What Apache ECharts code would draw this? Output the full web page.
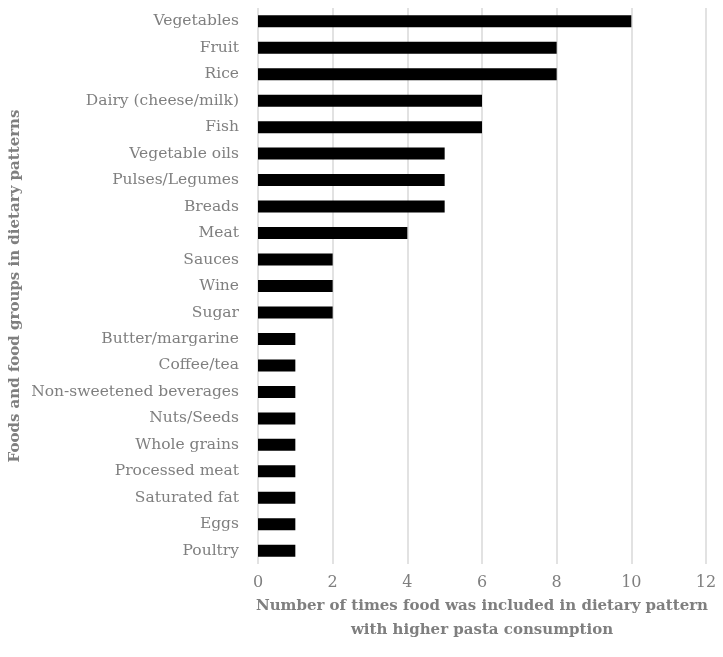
<!DOCTYPE html>
<html>
<head>
<meta charset="utf-8">
<script src="https://cdn.jsdelivr.net/npm/echarts@6/dist/echarts.min.js"></script>
<style>
  html, body { margin: 0; padding: 0; background: #fff; }
  #chart { width: 723px; height: 657px; }
</style>
</head>
<body>
<div id="chart"></div>
<script>
// food groups, top to bottom as shown
var foods = ['Vegetables', 'Fruit', 'Rice', 'Dairy (cheese/milk)', 'Fish', 'Vegetable oils',
    'Pulses/Legumes', 'Breads', 'Meat', 'Sauces', 'Wine', 'Sugar', 'Butter/margarine',
    'Coffee/tea', 'Non-sweetened beverages', 'Nuts/Seeds', 'Whole grains', 'Processed meat',
    'Saturated fat', 'Eggs', 'Poultry'];
var counts = [10, 8, 8, 6, 6, 5, 5, 5, 4, 2, 2, 2, 1, 1, 1, 1, 1, 1, 1, 1, 1];
var xTicks = [0, 2, 4, 6, 8, 10, 12];

var font = 'DejaVu Serif';
var grey = '#7f7f7f';

var chart = echarts.init(document.getElementById('chart'));
chart.setOption({
    animation: false,
    grid: { left: 258, right: 17, top: 8, bottom: 93, containLabel: false, outerBoundsMode: 'none' },
    xAxis: {
        type: 'value',
        min: xTicks[0],
        max: xTicks[xTicks.length - 1],
        interval: 2,
        name: 'Number of times food was included in dietary pattern\nwith higher pasta consumption',
        nameLocation: 'middle',
        nameGap: 30,
        nameMoveOverlap: false,
        nameTextStyle: { fontFamily: font, fontWeight: 'bold', fontSize: 15, color: grey, lineHeight: 24 },
        axisLine: { show: false },
        axisTick: { show: false },
        axisLabel: { fontFamily: font, fontSize: 16, color: grey, margin: 11 },
        splitLine: { lineStyle: { color: '#d9d9d9', width: 1.5 } }
    },
    yAxis: {
        type: 'category',
        data: foods,
        inverse: true,
        name: 'Foods and food groups in dietary patterns',
        nameLocation: 'middle',
        nameGap: 235,
        nameMoveOverlap: false,
        nameTextStyle: { fontFamily: font, fontWeight: 'bold', fontSize: 15, color: grey },
        axisLine: { show: false },
        axisTick: { show: false },
        axisLabel: { fontFamily: font, fontSize: 15.5, color: grey, margin: 19 }
    },
    series: [{
        type: 'bar',
        data: counts,
        barWidth: 12,
        itemStyle: { color: '#000000' }
    }]
});
</script>
</body>
</html>
